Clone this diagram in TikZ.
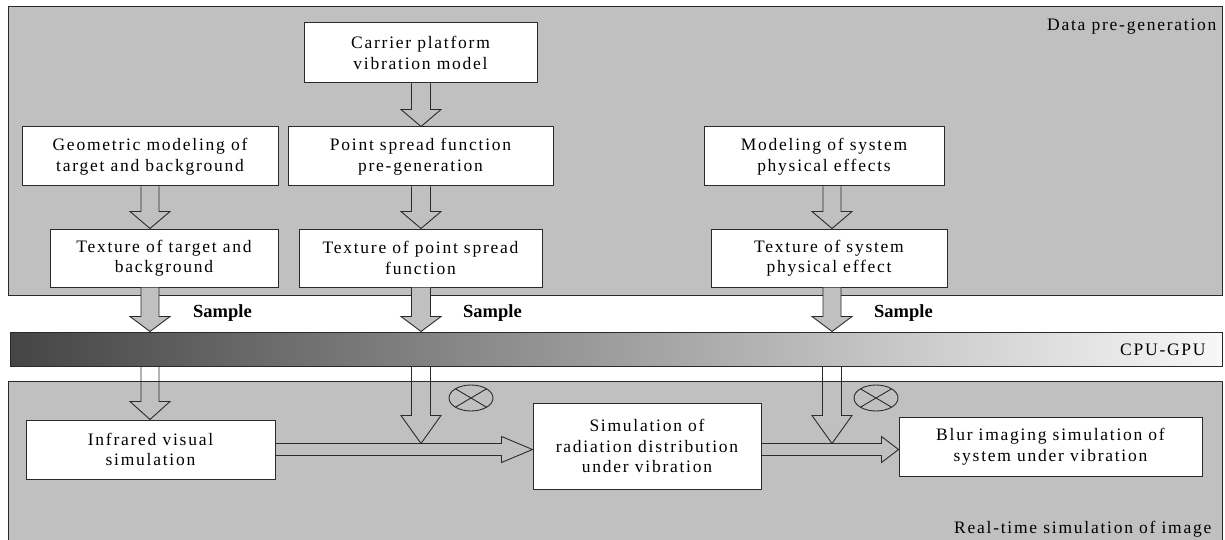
\documentclass[tikz,border=0pt]{standalone}
\usepackage{fontspec}
\setmainfont{Liberation Serif}[LetterSpace=10.0]
\newfontfamily\labelfont{Liberation Serif}
\usetikzlibrary{calc,shapes.geometric}

\definecolor{panelgray}{HTML}{C0C0C0}
\definecolor{linegray}{HTML}{2A2A2A}

\tikzset{
  panel/.style={draw=linegray, line width=1pt, fill=panelgray},
  stagebox/.style={draw=linegray, line width=1pt, fill=white, inner sep=0pt,
    align=center, font=\fontsize{17.5}{20.5}\selectfont},
  blockarrow/.style={draw=linegray, line width=0.9pt, line join=miter},
  samplearrow/.style={blockarrow, fill=panelgray},
  panellabel/.style={inner sep=0pt, anchor=base west, font=\fontsize{17.5}{20}\selectfont},
  samplelabel/.style={inner sep=0pt, anchor=base west, font=\labelfont\bfseries\fontsize{18.5}{20}\selectfont},
  mult/.style={ellipse, draw=linegray, line width=0.9pt, inner sep=0pt,
    minimum width=44pt, minimum height=26pt,
    path picture={
      \draw[linegray, line width=0.9pt]
        (path picture bounding box.north west) -- (path picture bounding box.south east)
        (path picture bounding box.south west) -- (path picture bounding box.north east);}}
}

% downward block arrow: style, start (its y), tip, head length, half shaft width
\newcommand\downblock[5][blockarrow]{%
  \draw[#1] let \p1=(#2), \p2=(#3) in
    (\x2-#5,\y1) -- (\x2-#5,\y2+#4) -- (\x2-20pt,\y2+#4) -- (\x2,\y2)
    -- (\x2+20pt,\y2+#4) -- (\x2+#5,\y2+#4) -- (\x2+#5,\y1);}

% rightward block arrow: start (its x and y), tip (its x), head length
\newcommand\rightblock[4][blockarrow]{%
  \draw[#1] let \p1=(#2), \p2=(#3) in
    (\x1,\y1+6pt) -- (\x2-#4,\y1+6pt) -- (\x2-#4,\y1+13pt) -- (\x2,\y1)
    -- (\x2-#4,\y1-13pt) -- (\x2-#4,\y1-6pt) -- (\x1,\y1-6pt);}

\begin{document}
\begin{tikzpicture}[x=1pt, y=-1pt]
\useasboundingbox (0,0) rectangle (1225,540);
\clip (0,0) rectangle (1225,540);
\fill[white] (0,0) rectangle (1225,540);

% the two stage panels
\draw[panel] (8,7) rectangle (1222,295);
\draw[panel] (8,381) rectangle (1222,560);
\node[panellabel] (lab1) at (1047,31) {Data pre-generation};
\node[panellabel] (lab2) at (954,533) {Real-time simulation of image};

% CPU-GPU transfer bar
\node[draw=linegray, line width=1pt, left color=black!73, right color=black!3,
      minimum width=1212pt, minimum height=34pt, inner sep=0pt] (bar) at (616,349) {};
\node[panellabel] (lab3) at (1120,355) {CPU-GPU};

% column positions of the three data paths
\coordinate (c1) at (150,0);
\coordinate (c2) at (421,0);
\coordinate (c3) at (832,0);

% pre-generation boxes
\node[stagebox, minimum width=233pt, minimum height=60pt] (carrier) at (420.5,53)
  {Carrier platform\\vibration model};
\node[stagebox, minimum width=256pt, minimum height=59pt] (geo) at (150,156.5)
  {Geometric modeling of\\target and background};
\node[stagebox, minimum width=265pt, minimum height=59pt] (psf) at (420.5,156.5)
  {Point spread function\\pre-generation};
\node[stagebox, minimum width=240pt, minimum height=59pt] (phys) at (824,156.5)
  {Modeling of system\\physical effects};
\node[stagebox, minimum width=228pt, minimum height=58pt] (texgeo) at (164,258)
  {Texture of target and\\background};
\node[stagebox, minimum width=243pt, minimum height=58pt] (texpsf) at (420.5,258)
  {Texture of point spread\\function};
\node[stagebox, minimum width=236pt, minimum height=58pt] (texphys) at (829,258)
  {Texture of system\\physical effect};

% real-time simulation boxes
\node[stagebox, minimum width=249pt, minimum height=59pt] (ir) at (150.5,449.5)
  {Infrared visual\\simulation};
\node[stagebox, minimum width=228pt, minimum height=86pt] (rad) at (647,446)
  {Simulation of\\radiation distribution\\under vibration};
\node[stagebox, minimum width=303pt, minimum height=59pt] (blur) at (1050.5,446.5)
  {Blur imaging simulation of\\system under vibration};

% convolution markers
\node[mult] (m1) at (471,398) {};
\node[mult] (m2) at (876,398) {};

% arrows inside the pre-generation panel
\downblock{carrier.south}{c2 |- psf.north}{17pt}{9.5pt}
\downblock{geo.south}{c1 |- texgeo.north}{17pt}{9pt}
\downblock{psf.south}{c2 |- texpsf.north}{17pt}{9.5pt}
\downblock{phys.south}{c3 |- texphys.north}{17pt}{9pt}

% sampling into the CPU-GPU bar
\downblock[samplearrow]{texgeo.south}{c1 |- bar.north}{15pt}{9pt}
\downblock[samplearrow]{texpsf.south}{c2 |- bar.north}{15pt}{9.5pt}
\downblock[samplearrow]{texphys.south}{c3 |- bar.north}{15pt}{9pt}
\node[samplelabel] (s1) at (193,317) {Sample};
\node[samplelabel] (s2) at (463,317) {Sample};
\node[samplelabel] (s3) at (874,317) {Sample};

% junctions on the horizontal data flow
\coordinate (j1) at ([yshift=6pt]c2 |- ir.east);
\coordinate (j2) at ([yshift=6pt]c3 |- ir.east);

% arrows out of the bar
\downblock{bar.south}{c1 |- ir.north}{18pt}{9pt}
\downblock{bar.south}{j1}{28pt}{9.5pt}
\downblock{bar.south}{j2}{28pt}{9.5pt}

% horizontal flow between simulation stages
\rightblock{ir.east}{rad.west |- ir.east}{31pt}
\rightblock{rad.east |- ir.east}{blur.west |- ir.east}{17pt}
\end{tikzpicture}
\end{document}
